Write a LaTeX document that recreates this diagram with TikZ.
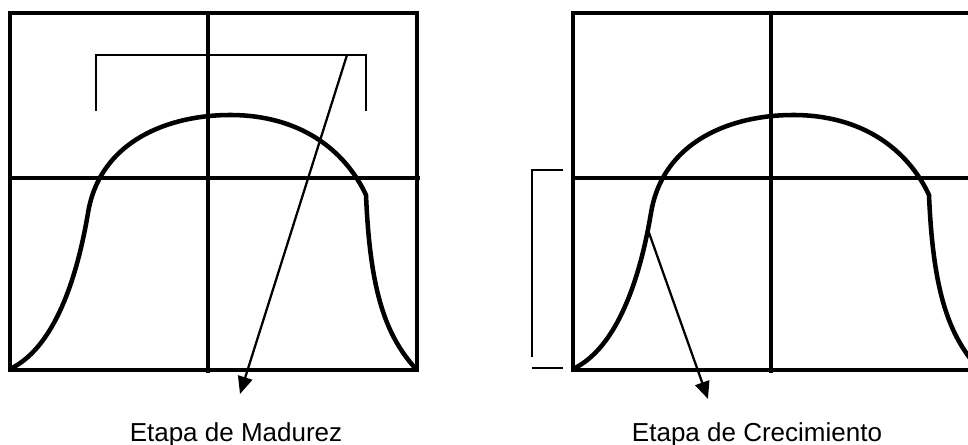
\documentclass[tikz,border=0pt]{standalone}
\usepackage{fontspec}
\setmainfont{Liberation Sans}
\usetikzlibrary{arrows.meta}
\begin{document}
\begin{tikzpicture}[
  x=0.75pt, y=-0.75pt,
  frame/.style={line width=3.6pt},
  grid/.style={line width=3.1pt},
  growth/.style={line width=3.4pt, line join=round},
  brace/.style={line width=1.5pt},
  pointer/.style={line width=1.7pt, -{Triangle[length=13pt,width=11pt]}},
  stage/.style={font=\fontsize{19.5pt}{23pt}\selectfont, inner sep=0pt, anchor=base}
]
  \useasboundingbox (0,0) rectangle (968,445);
  \clip (0,0) rectangle (968,445);

  % two identical panels
  \foreach \dx in {0,563} {
    \begin{scope}[xshift=\dx*0.75pt]
      \draw[frame] (10,13) rectangle (417,370);
      \draw[grid] (208,13) -- (208,373);
      \draw[grid] (10,178) -- (420,178);
      \draw[growth] (10,369) .. controls (50,350) and (75,290) .. (88,213)
        .. controls (100,140) and (170,115) .. (230,115)
        .. controls (300,115) and (345,150) .. (366,195)
        .. controls (370,290) and (385,335) .. (416,369);
    \end{scope}
  }

  % bracket over the top of the curve
  \draw[brace] (96,111) -- (96,55) -- (366,55) -- (366,111);
  % bracket beside the rising part
  \draw[brace] (563,170) -- (532,170) -- (532,357);
  \draw[brace] (532,368) -- (563,368);

  \coordinate (madTop) at (347,55);
  \coordinate (madEnd) at (240,394);
  \coordinate (creTop) at (648,230);
  \coordinate (creEnd) at (708,399);

  \draw[pointer] (madTop) -- (madEnd);
  \draw[pointer] (creTop) -- (creEnd);

  \node[stage] (madurez) at (236,441) {Etapa de Madurez};
  \node[stage] (crecimiento) at (757,441) {Etapa de Crecimiento};
\end{tikzpicture}
\end{document}
